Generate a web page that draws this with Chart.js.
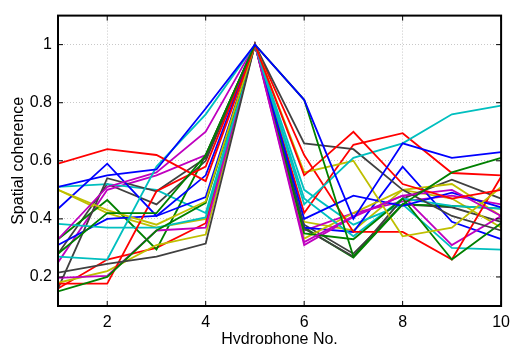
<!DOCTYPE html>
<html>
<head>
<meta charset="utf-8">
<script src="https://cdn.jsdelivr.net/npm/chart.js@4"></script>
<style>
  html, body { margin: 0; padding: 0; background: #fff; }
  #wrap { width: 517px; height: 344px; }
</style>
</head>
<body>
<div id="wrap"><canvas id="coherenceChart" width="517" height="344"></canvas></div>
<script>
// Hydrophone index
const hydrophones = [1, 2, 3, 4, 5, 6, 7, 8, 9, 10];
const xTicks = [2, 4, 6, 8, 10];
const yTicks = [0.2, 0.4, 0.6, 0.8, 1];

// MATLAB default line colour order
const colorOrder = ['#0000ff', '#008000', '#ff0000', '#00bfbf', '#bf00bf', '#bfbf00', '#404040'];

// Spatial coherence per record
const rec01 = [0.51, 0.55, 0.57, 0.78, 1, 0.81, 0.40, 0.66, 0.61, 0.63];
const rec02 = [0.28, 0.42, 0.42, 0.62, 1, 0.81, 0.27, 0.45, 0.56, 0.61];
const rec03 = [0.59, 0.64, 0.62, 0.53, 1, 0.55, 0.70, 0.52, 0.47, 0.50];
const rec04 = [0.27, 0.26, 0.58, 0.76, 1, 0.45, 0.61, 0.66, 0.76, 0.79];
const rec05 = [0.33, 0.51, 0.56, 0.70, 1, 0.32, 0.41, 0.48, 0.50, 0.41];
const rec06 = [0.50, 0.43, 0.38, 0.46, 1, 0.56, 0.60, 0.34, 0.37, 0.51];
const rec07 = [0.215, 0.245, 0.27, 0.315, 1, 0.66, 0.64, 0.50, 0.41, 0.36];
const rec08 = [0.435, 0.59, 0.41, 0.55, 1, 0.40, 0.48, 0.445, 0.49, 0.44];
const rec09 = [0.15, 0.20, 0.36, 0.455, 1, 0.35, 0.33, 0.47, 0.26, 0.385];
const rec10 = [0.177, 0.177, 0.495, 0.58, 1, 0.62, 0.355, 0.355, 0.26, 0.545];
const rec11 = [0.383, 0.37, 0.37, 0.405, 1, 0.47, 0.34, 0.47, 0.445, 0.435];
const rec12 = [0.197, 0.204, 0.36, 0.37, 1, 0.31, 0.407, 0.48, 0.31, 0.41];
const rec13 = [0.18, 0.22, 0.31, 0.346, 1, 0.332, 0.42, 0.50, 0.52, 0.41];
const rec14 = [0.16, 0.54, 0.495, 0.61, 1, 0.366, 0.27, 0.47, 0.535, 0.47];
const rec15 = [0.31, 0.40, 0.41, 0.475, 1, 0.37, 0.355, 0.58, 0.39, 0.33];
const rec16 = [0.33, 0.465, 0.295, 0.62, 1, 0.37, 0.267, 0.45, 0.445, 0.435];
const rec17 = [0.16, 0.26, 0.30, 0.385, 1, 0.42, 0.655, 0.695, 0.558, 0.55];
const rec18 = [0.51, 0.52, 0.50, 0.42, 1, 0.50, 0.38, 0.45, 0.30, 0.294];
const rec19 = [0.25, 0.50, 0.55, 0.62, 1, 0.36, 0.42, 0.46, 0.48, 0.45];
const rec20 = [0.50, 0.42, 0.37, 0.40, 1, 0.39, 0.36, 0.50, 0.47, 0.37];
const rec21 = [0.28, 0.52, 0.45, 0.60, 1, 0.38, 0.28, 0.45, 0.44, 0.39];

const records = [rec01, rec02, rec03, rec04, rec05, rec06, rec07, rec08, rec09, rec10, rec11,
                 rec12, rec13, rec14, rec15, rec16, rec17, rec18, rec19, rec20, rec21];

const FONT = 'Liberation Sans, Arial, Helvetica, sans-serif';

// inward tick marks on all four sides, MATLAB style
const innerTicks = {
    id: 'innerTicks',
    afterDraw(chart) {
        const { ctx, chartArea: a, scales } = chart;
        const len = 5;
        ctx.save();
        ctx.strokeStyle = '#000';
        ctx.lineWidth = 1;
        ctx.beginPath();
        xTicks.forEach(v => {
            const px = scales.x.getPixelForValue(v);
            ctx.moveTo(px, a.bottom); ctx.lineTo(px, a.bottom - len);
            ctx.moveTo(px, a.top); ctx.lineTo(px, a.top + len);
        });
        yTicks.forEach(v => {
            const py = scales.y.getPixelForValue(v);
            ctx.moveTo(a.left, py); ctx.lineTo(a.left + len, py);
            ctx.moveTo(a.right, py); ctx.lineTo(a.right - len, py);
        });
        ctx.stroke();
        ctx.lineWidth = 2;
        ctx.strokeRect(a.left, a.top, a.right - a.left, a.bottom - a.top);
        ctx.restore();
    }
};

const ctx = document.getElementById('coherenceChart').getContext('2d');
new Chart(ctx, {
    type: 'line',
    data: {
        datasets: records.map((rec, i) => ({
            label: 'Record ' + (i + 1),
            data: rec.map((v, j) => ({ x: hydrophones[j], y: v })),
            borderColor: colorOrder[i % colorOrder.length],
            borderWidth: 1.8,
            pointRadius: 0,
            tension: 0,
            fill: false
        }))
    },
    options: {
        responsive: false,
        animation: false,
        layout: { padding: { top: 13, right: 11, left: 0, bottom: 0 } },
        plugins: { legend: { display: false }, tooltip: { enabled: false } },
        scales: {
            x: {
                type: 'linear',
                min: 1,
                max: 10,
                afterBuildTicks: s => { s.ticks = xTicks.map(v => ({ value: v })); },
                afterFit: s => { s.height = 38; },
                grid: { color: '#c8c8c8', lineWidth: 1, drawTicks: false },
                border: { display: false, dash: [1, 2] },
                ticks: { color: '#000', font: { family: FONT, size: 16 }, padding: 7, maxRotation: 0 },
                title: { display: true, text: 'Hydrophone No.', color: '#000', font: { family: FONT, size: 16 }, padding: { top: 0, bottom: -5 } }
            },
            y: {
                min: 0.1,
                max: 1.1,
                afterBuildTicks: s => { s.ticks = yTicks.map(v => ({ value: v })); },
                afterFit: s => { s.width = 58; },
                grid: { color: '#c8c8c8', lineWidth: 1, drawTicks: false },
                border: { display: false, dash: [1, 2] },
                ticks: { color: '#000', font: { family: FONT, size: 16 }, padding: 6,
                         callback: v => String(Math.round(v * 10) / 10) },
                title: { display: true, text: 'Spatial coherence', color: '#000', font: { family: FONT, size: 16 }, padding: { top: 9, bottom: 0 } }
            }
        }
    },
    plugins: [innerTicks]
});
</script>
</body>
</html>
